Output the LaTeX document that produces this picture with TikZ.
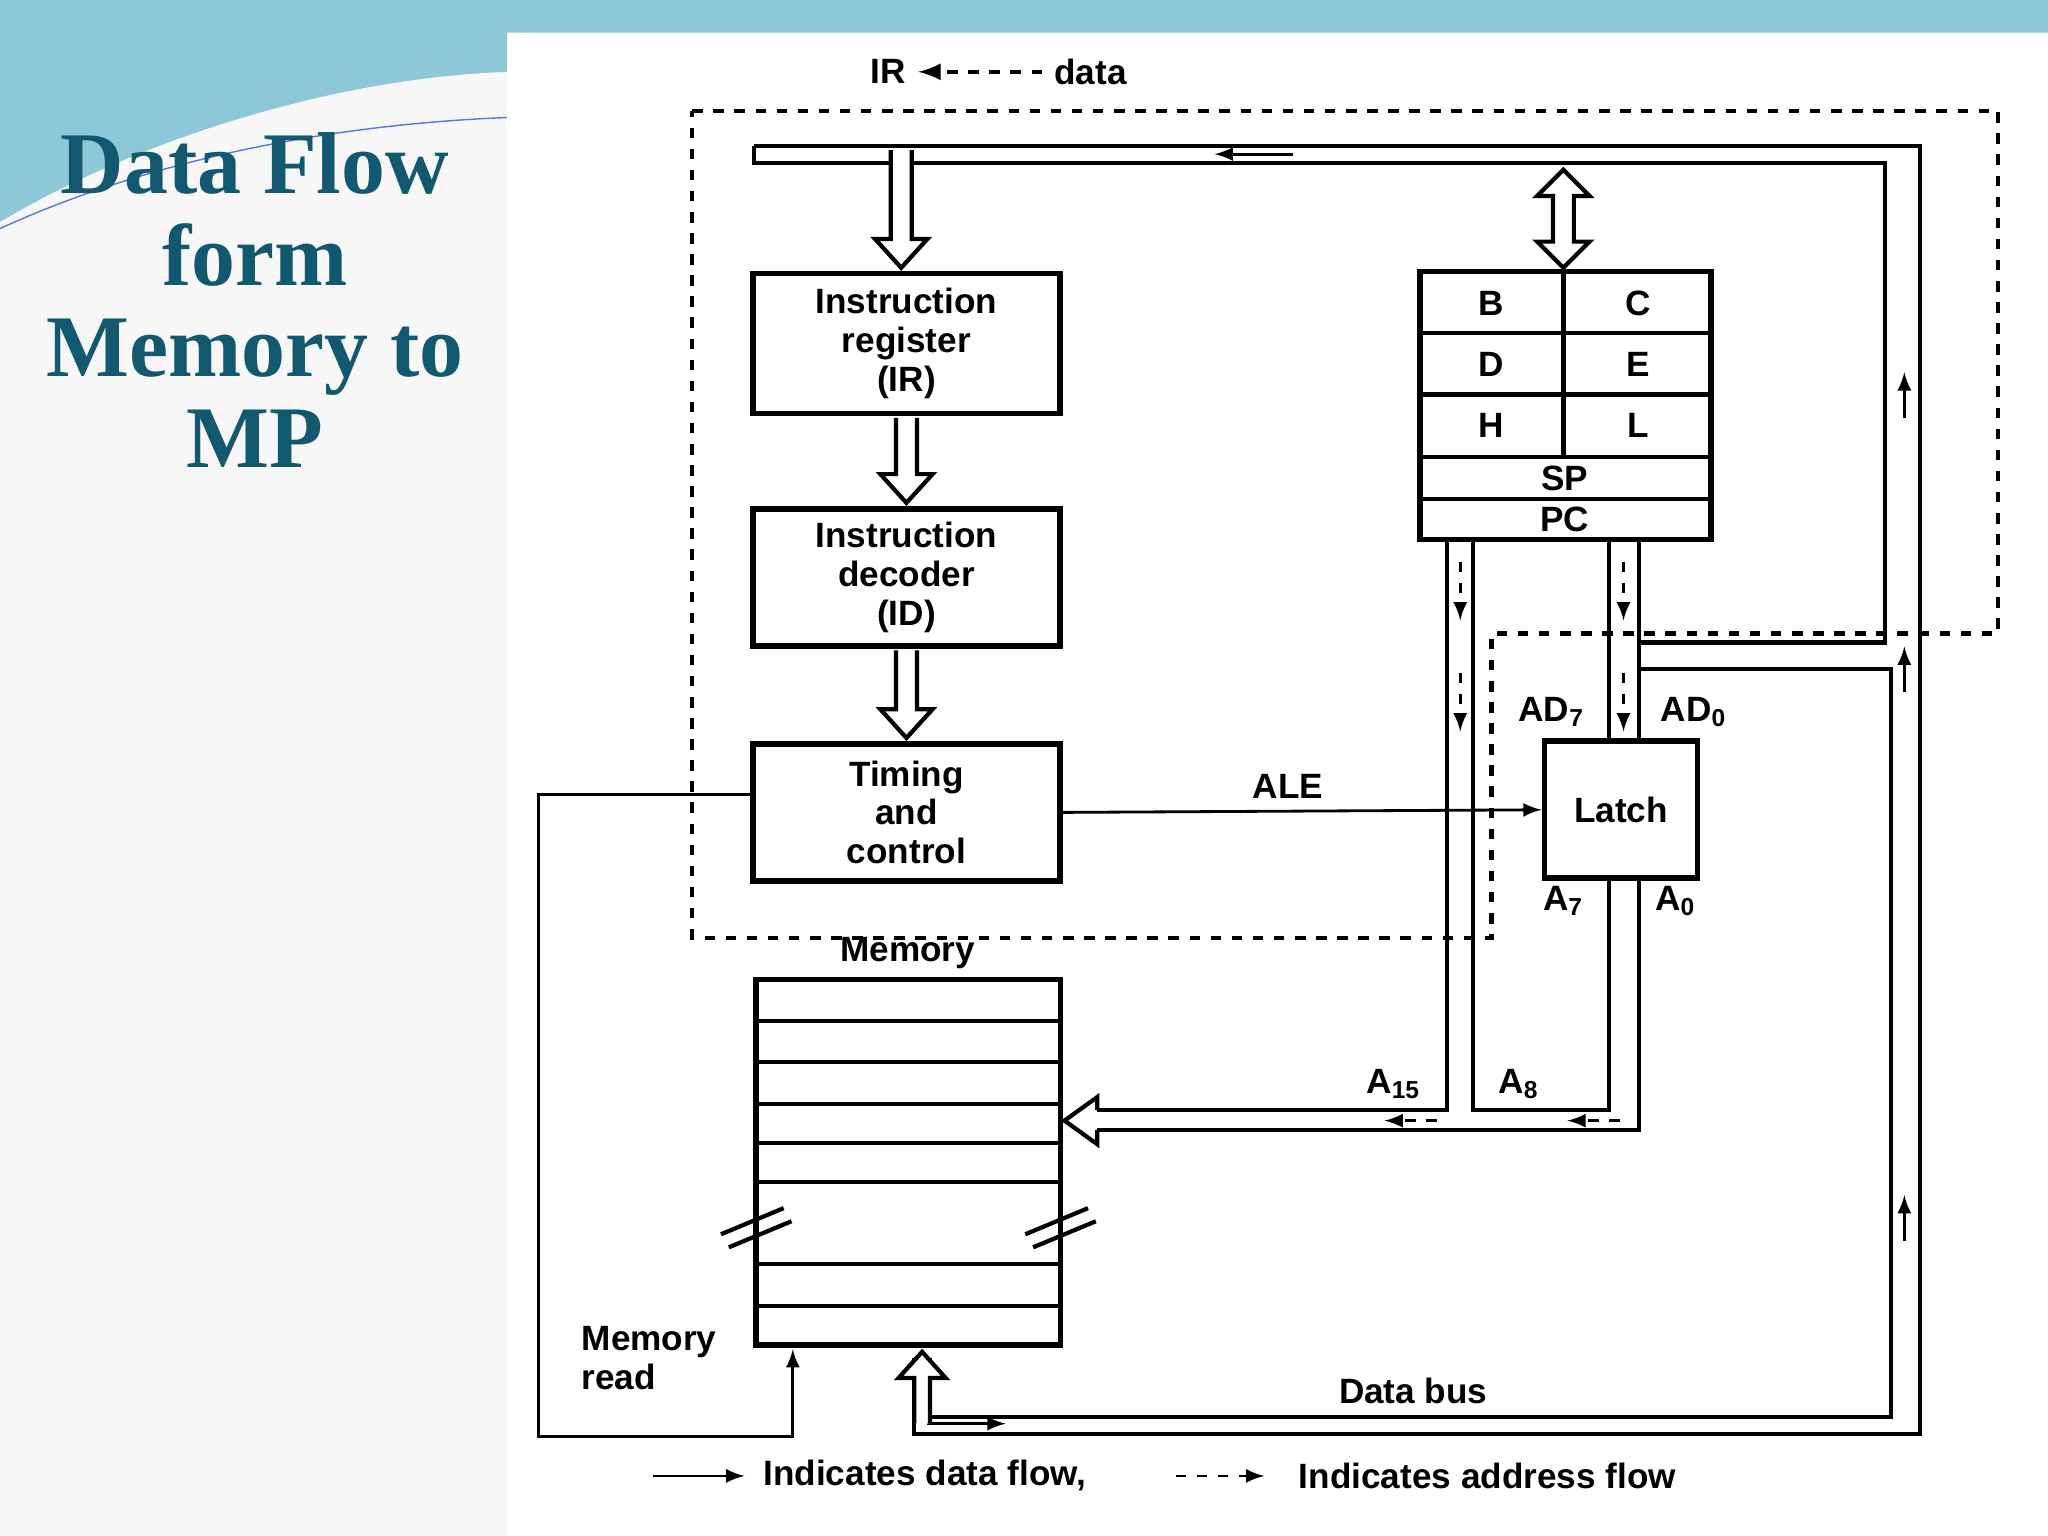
\documentclass[tikz,border=0pt]{standalone}
\usepackage{fontspec}
\setmainfont{Liberation Sans}
\newfontfamily\titlefont{Liberation Serif}
\usetikzlibrary{arrows,positioning,calc}
\definecolor{teal1}{RGB}{18,88,110}
\definecolor{sky}{RGB}{140,200,215}
\begin{document}
\begin{tikzpicture}[x=0.01306cm,y=-0.01306cm,
    box/.style={draw,line width=1.6pt,inner sep=0pt,font=\fontsize{10}{11}\selectfont\bfseries,align=center},
    lbl/.style={font=\fontsize{10}{11}\selectfont\bfseries},
    dashbox/.style={draw,dashed,line width=1.2pt},
    bus/.style={line width=1.2pt},
    hollow/.style={draw,line width=1.2pt,fill=white}]
    \useasboundingbox (0,0) rectangle (1568,1176);
    % background
    \fill[black!3] (0,0) rectangle (1568,1176);
    \fill[sky] (0,0) -- (1568,0) -- (1568,25) -- (388,25) -- (388,55) .. controls (250,60) and (100,110) .. (0,170) -- cycle;
    \fill[white] (388,25) rectangle (1568,1176);
    \draw[sky!60!blue,thin] (0,175) .. controls (120,120) and (260,95) .. (388,90);
    \node[font=\titlefont\fontsize{25}{26}\selectfont\bfseries,text=teal1,align=center] (title) at (195,230)
        {Data Flow\\form\\Memory to\\MP};

    % blocks
    \node[box,minimum width=3.07cm,minimum height=1.40cm] (ir) at (694,263) {Instruction\\register\\(IR)};
    \node[box,minimum width=3.07cm,minimum height=1.37cm] (id) at (694,442) {Instruction\\decoder\\(ID)};
    \node[box,minimum width=3.07cm,minimum height=1.37cm] (tc) at (694,622) {Timing\\and\\control};
    \node[box,minimum width=1.53cm,minimum height=1.37cm] (latch) at (1241,620) {Latch};

    % register array
    \draw[line width=1.6pt] (1087,208) rectangle (1310,413);
    \foreach \yy in {255,302,350,382} \draw[line width=1.2pt] (1087,\yy) -- (1310,\yy);
    \draw[line width=1.2pt] (1197,208) -- (1197,350);
    \node[lbl] (rb) at (1142,232) {B};  \node[lbl] (rc) at (1254,232) {C};
    \node[lbl] (rd) at (1142,279) {D};  \node[lbl] (re) at (1254,279) {E};
    \node[lbl] (rh) at (1142,326) {H};  \node[lbl] (rl) at (1254,326) {L};
    \node[lbl] (sp) at (1198,366) {SP}; \node[lbl] (pc) at (1198,398) {PC};

    % memory
    \draw[line width=1.6pt] (579,750) rectangle (812,1030);
    \foreach \yy in {782,813,845,875,905,968,1000} \draw[line width=1.2pt] (579,\yy) -- (812,\yy);
    \draw[line width=1.2pt] (552,945) -- (600,925) (558,955) -- (606,935);
    \draw[line width=1.2pt] (785,945) -- (833,925) (791,955) -- (839,935);
    \node[lbl] (mem) at (695,730) {Memory};

    % dashed outline
    \draw[dashbox] (530,85) -- (1530,85) -- (1530,485) -- (1142,485) -- (1142,718) -- (530,718) -- cycle;
    \node[lbl] (irlbl) at (680,55) {IR};
    \node[lbl] (datalbl) at (835,55) {data};
    \draw[dashbox,-latex] (datalbl) -- (irlbl);

    % internal data bus
    \draw[bus] (577,112) -- (1470,112) -- (1470,1098) -- (700,1098) -- (700,1040);
    \draw[bus] (577,112) -- (577,125) -- (684,125);
    \draw[bus] (700,125) -- (1443,125) -- (1443,492) -- (1255,492);
    \draw[bus] (1255,512) -- (1448,512) -- (1448,1085) -- (712,1085) -- (712,1040);
    \draw[-latex,thick] (990,118) -- (930,118);
    \draw[-latex,thick] (1458,320) -- (1458,285);
    \draw[-latex,thick] (1458,530) -- (1458,495);
    \draw[-latex,thick] (1458,950) -- (1458,915);
    \draw[-latex,thick] (710,1090) -- (770,1090);
    \node[lbl] (dbus) at (1082,1065) {Data bus};

    % hollow bus arrows
    \foreach \xa/\ya/\yb in {690/115/205, 694/320/385, 694/498/565}
      \draw[hollow] (\xa-8,\ya) -- (\xa-8,\yb-22) -- (\xa-20,\yb-22) -- (\xa,\yb) -- (\xa+20,\yb-22) -- (\xa+8,\yb-22) -- (\xa+8,\ya);
    \draw[hollow] (1189,150) -- (1189,185) -- (1177,185) -- (1197,205) -- (1217,185) -- (1205,185)
        -- (1205,150) -- (1217,150) -- (1197,130) -- (1177,150) -- cycle;
    \draw[hollow] (700,1090) -- (700,1055) -- (688,1055) -- (706,1035) -- (724,1055) -- (712,1055) -- (712,1090);

    % address bus
    \draw[bus] (1108,413) -- (1108,850) -- (840,850);
    \draw[bus] (1128,413) -- (1128,850) -- (1232,850) -- (1232,672);
    \draw[bus] (1232,413) -- (1232,567);
    \draw[bus] (1255,413) -- (1255,567);
    \draw[bus] (1255,672) -- (1255,865) -- (840,865);
    \draw[hollow] (840,850) -- (840,840) -- (815,858) -- (840,876) -- (840,865);
    \foreach \xx in {1118,1243} {
      \draw[dashed,-latex,thick] (\xx,430) -- (\xx,475);
      \draw[dashed,-latex,thick] (\xx,515) -- (\xx,560);
    }
    \draw[dashed,-latex,thick] (1100,858) -- (1060,858);
    \draw[dashed,-latex,thick] (1240,858) -- (1200,858);
    \node[lbl] (ad7) at (1188,545) {AD\textsubscript{7}};
    \node[lbl] (ad0) at (1297,545) {AD\textsubscript{0}};
    \node[lbl] (a7) at (1197,690) {A\textsubscript{7}};
    \node[lbl] (a0) at (1283,690) {A\textsubscript{0}};
    \node[lbl] (a15) at (1067,830) {A\textsubscript{15}};
    \node[lbl] (a8) at (1163,830) {A\textsubscript{8}};

    % control lines
    \draw[thick,-latex] (tc.east) -- (latch.west) node[pos=0.47,above,lbl] (ale) {ALE};
    \coordinate (mr) at (607,1033);
    \draw[thick,-latex] (tc.west |- 0,608) -- (412,608) -- (412,1100) -- (607,1100) -- (mr);
    \node[lbl,align=left] (mrlbl) at (497,1040) {Memory\\read};

    % legend
    \coordinate (l1) at (500,1130); \coordinate (l2) at (570,1130);
    \coordinate (l3) at (900,1130); \coordinate (l4) at (968,1130);
    \draw[thick,-latex] (l1) -- (l2);
    \draw[thick,dashed,-latex] (l3) -- (l4);
    \node[lbl,right] (leg1) at (575,1130) {Indicates data flow,};
    \node[lbl,right] (leg2) at (985,1130) {Indicates address flow};
\end{tikzpicture}
\end{document}
